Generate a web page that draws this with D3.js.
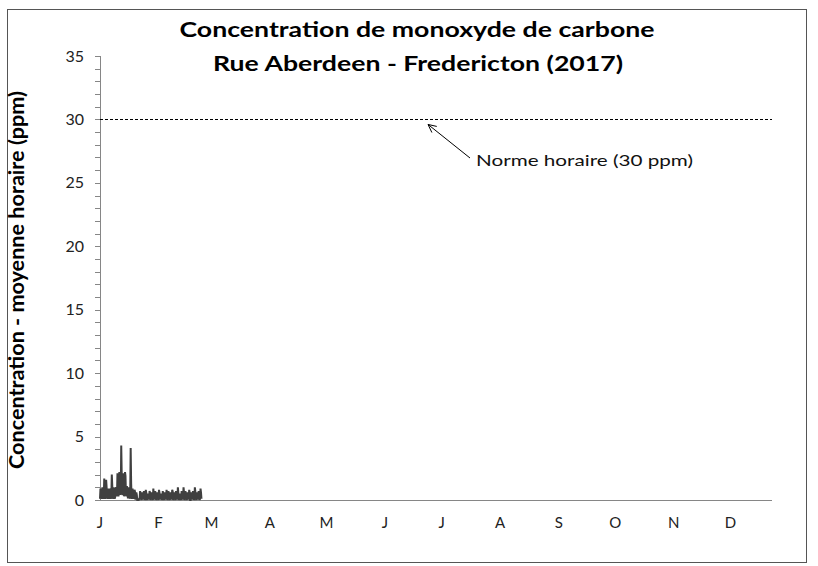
<!DOCTYPE html>
<html><head><meta charset="utf-8">
<script src="https://cdn.jsdelivr.net/npm/d3@7"></script>
<style>body{margin:0;background:#fff}svg{display:block}</style>
</head><body><svg id="c" width="818" height="566"></svg>
<script>
// ---- data ----
const title1 = "Concentration de monoxyde de carbone";
const title2 = "Rue Aberdeen - Fredericton (2017)";
const yTitle = "Concentration - moyenne horaire (ppm)";
const monthLabels = ["J","F","M","A","M","J","J","A","S","O","N","D"];
const yTicks = [0,5,10,15,20,25,30,35];
const normValue = 30;
const normLabel = "Norme horaire (30 ppm)";
// 6-hourly CO readings (ppm) starting 2017-01-01 00:00 (4 values per day)
const seriesStart = "2017-01-01T00:00";
const coValues = [
 0.1,0.9,0.5,0.2, 0.1,1.0,0.6,0.1, 0.2,1.7,0.8,0.1, 0.3,1.6,1.0,0.2, 0.1,0.9,0.6,0.1,
 0.2,0.8,0.9,0.1, 0.3,2.0,1.1,0.2, 0.1,1.0,0.7,0.1, 0.2,0.9,1.0,0.3, 0.4,2.1,1.5,0.3,
 0.5,2.2,1.8,0.4, 0.6,4.3,2.0,0.5, 0.4,2.1,1.7,0.3, 0.5,2.2,1.9,0.4, 0.3,1.1,0.8,0.2,
 0.2,1.0,0.7,0.1, 0.3,4.1,1.3,0.2, 0.1,0.9,0.6,0.1, 0.2,0.8,0.7,0.1, 0.1,0.6,0.4,0.0,
 0.0,0.0,0.0,0.1, 0.1,0.7,0.5,0.1, 0.0,0.6,0.4,0.1, 0.1,0.7,0.5,0.0, 0.1,0.8,0.6,0.1,
 0.0,0.5,0.3,0.1, 0.1,0.7,0.6,0.0, 0.1,0.6,0.4,0.1, 0.0,0.9,0.5,0.1, 0.1,0.7,0.4,0.0,
 0.1,0.6,0.5,0.1, 0.0,0.8,0.6,0.1, 0.1,0.5,0.4,0.0, 0.1,0.7,0.5,0.1, 0.0,0.6,0.3,0.1,
 0.1,0.8,0.6,0.0, 0.1,0.7,0.5,0.1, 0.0,0.6,0.4,0.1, 0.1,0.8,0.7,0.0, 0.1,0.6,0.5,0.1,
 0.0,0.7,0.4,0.1, 0.1,1.0,0.6,0.0, 0.1,0.5,0.4,0.1, 0.0,0.7,0.5,0.1, 0.1,1.0,0.6,0.0,
 0.1,0.7,0.5,0.1, 0.0,0.6,0.4,0.1, 0.1,0.8,0.6,0.0, 0.0,0.6,0.5,0.1, 0.1,0.7,0.4,0.0,
 0.1,1.0,0.7,0.1, 0.0,0.6,0.5,0.1, 0.1,0.7,0.5,0.0, 0.1,0.9,0.6,0.1
];

// ---- layout ----
const svg = d3.select("#c");
const plot = {left:100, right:772, top:56, bottom:500};
const font = "Lato, 'Open Sans', sans-serif";
const axisColor = "#868686";

svg.append("rect").attr("x",7.5).attr("y",9.5).attr("width",799).attr("height",553)
  .attr("fill","#fff").attr("stroke","#555").attr("stroke-width",1);

const x = d3.scaleTime()
  .domain([new Date(2017,0,1), new Date(2017,11,23)])
  .range([plot.left, plot.right]);
const y = d3.scaleLinear().domain([0,35]).range([plot.bottom, plot.top]);

// title
svg.append("text").attr("x",417).attr("y",36.5).attr("text-anchor","middle")
  .attr("font-family",font).attr("font-weight","bold").attr("font-size",21)
  .attr("textLength",475).attr("lengthAdjust","spacingAndGlyphs").text(title1);
svg.append("text").attr("x",418).attr("y",71).attr("text-anchor","middle")
  .attr("font-family",font).attr("font-weight","bold").attr("font-size",21)
  .attr("textLength",410).attr("lengthAdjust","spacingAndGlyphs").text(title2);

// y axis
svg.append("g").selectAll("line").data(d3.range(0,36,1)).join("line")
  .attr("x1",plot.left-5).attr("x2",plot.left)
  .attr("y1",d=>Math.round(y(d))+0.5).attr("y2",d=>Math.round(y(d))+0.5)
  .attr("stroke",axisColor);
svg.append("line").attr("x1",plot.left+0.5).attr("x2",plot.left+0.5)
  .attr("y1",plot.top).attr("y2",plot.bottom).attr("stroke",axisColor);
svg.append("g").selectAll("text").data(yTicks).join("text")
  .attr("x",plot.left-16).attr("y",d=>y(d)).attr("dy","0.35em").attr("text-anchor","end")
  .attr("font-family",font).attr("font-size",16).attr("fill","#222").text(d=>d);

// x axis
svg.append("line").attr("x1",plot.left).attr("x2",plot.right)
  .attr("y1",plot.bottom+0.5).attr("y2",plot.bottom+0.5).attr("stroke",axisColor);
const months = d3.timeMonths(new Date(2017,0,1), new Date(2018,0,1));
svg.append("g").selectAll("text").data(months).join("text")
  .attr("x",d=>x(d)).attr("y",plot.bottom+28).attr("text-anchor","middle")
  .attr("font-family",font).attr("font-size",15).attr("fill","#222")
  .text((d,i)=>monthLabels[i]);

// y title
svg.append("text").attr("transform",`translate(24,280) rotate(-90)`)
  .attr("text-anchor","middle").attr("font-family",font).attr("font-weight","bold")
  .attr("font-size",20).attr("textLength",378).attr("lengthAdjust","spacingAndGlyphs")
  .text(yTitle);

// norm line
svg.append("line").attr("x1",plot.left).attr("x2",plot.right)
  .attr("y1",Math.round(y(normValue))+0.5).attr("y2",Math.round(y(normValue))+0.5)
  .attr("stroke","#000").attr("stroke-dasharray","3,2");

// data line
const t0 = new Date(seriesStart);
const pts = coValues.map((v,i)=>({t:d3.timeHour.offset(t0,i*6), v}));
svg.append("path").datum(pts)
  .attr("d",d3.line().x(d=>x(d.t)).y(d=>y(d.v)))
  .attr("fill","none").attr("stroke","#404040").attr("stroke-width",2);

// annotation
const ax1 = 470, ay1 = 158, ax2 = 428, ay2 = y(normValue)+5;
svg.append("line").attr("x1",ax1).attr("y1",ay1).attr("x2",ax2).attr("y2",ay2)
  .attr("stroke","#000").attr("stroke-width",1);
const ang = Math.atan2(ay1-ay2, ax1-ax2);
[0.45,-0.45].forEach(a=>{
  svg.append("line").attr("x1",ax2).attr("y1",ay2)
    .attr("x2",ax2+9*Math.cos(ang+a)).attr("y2",ay2+9*Math.sin(ang+a))
    .attr("stroke","#000").attr("stroke-width",1);
});
svg.append("text").attr("x",476).attr("y",160).attr("dy","0.35em")
  .attr("font-family",font).attr("font-size",16).attr("fill","#111")
  .attr("textLength",217).attr("lengthAdjust","spacingAndGlyphs").text(normLabel);
</script></body></html>
